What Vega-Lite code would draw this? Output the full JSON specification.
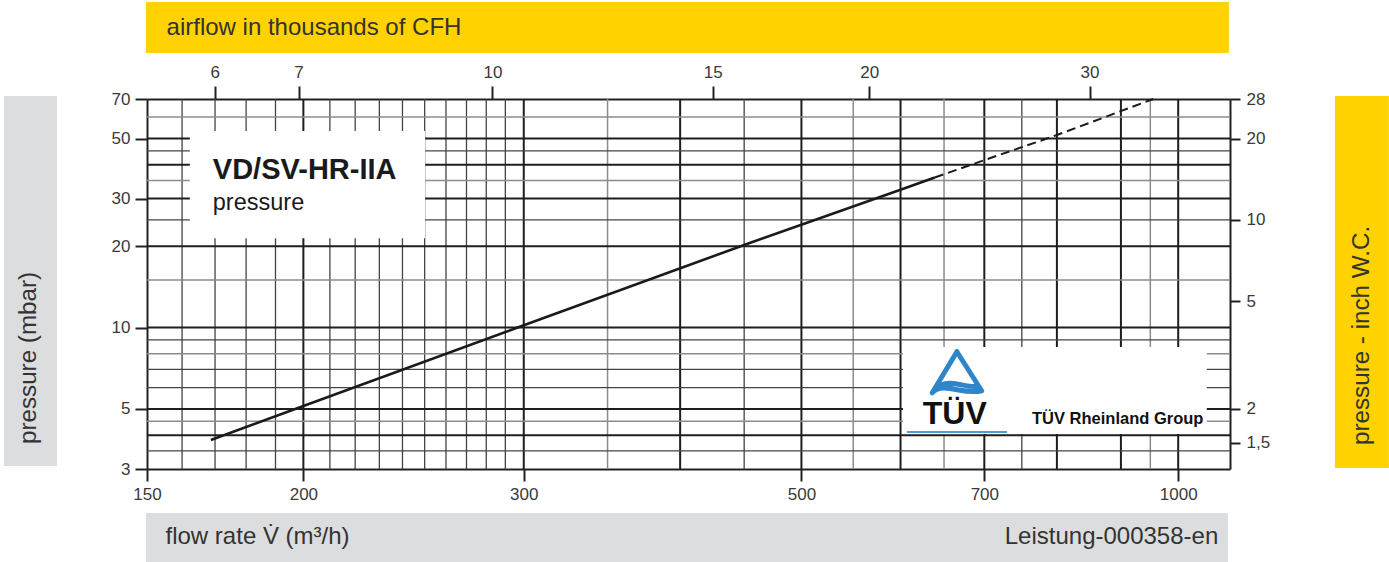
{
  "$schema": "https://vega.github.io/schema/vega-lite/v6.json",
  "width": 1083,
  "height": 370,
  "autosize": {"type": "none"},
  "padding": {"left": 147, "top": 99, "right": 159, "bottom": 93},
  "background": "white",
  "config": {
    "view": {"stroke": null},
    "axis": {
      "domainColor": "#222222",
      "domainWidth": 2,
      "tickColor": "#222222",
      "tickWidth": 2,
      "tickSize": 12,
      "labelFont": "Liberation Sans",
      "labelFontSize": 17,
      "labelColor": "#3a3a3a",
      "labelPadding": 5,
      "grid": false,
      "labelFlush": false,
      "labelOverlap": false
    },
    "text": {"font": "Liberation Sans", "color": "#333333"}
  },
  "resolve": {"scale": {"x": "independent", "y": "independent"}},
  "layer": [
    {
      "layer": [
        {
          "data": {"values": [{"band": "top"}]},
          "mark": {"type": "rect", "color": "#FFD200"},
          "encoding": {
            "x": {"datum": 149.7}, "x2": {"datum": 1097.7},
            "y": {"datum": 159.8}, "y2": {"datum": 103.6}
          }
        },
        {
          "data": {"values": [{"band": "bottom"}]},
          "mark": {"type": "rect", "color": "#DCDDDF"},
          "encoding": {
            "x": {"datum": 149.7}, "x2": {"datum": 1095.7},
            "y": {"datum": 2.063}, "y2": {"datum": 1.359}
          }
        },
        {
          "data": {"values": [{"band": "left"}]},
          "mark": {"type": "rect", "color": "#DCDDDF"},
          "encoding": {
            "x": {"datum": 115.3}, "x2": {"datum": 127.1},
            "y": {"datum": 71.8}, "y2": {"datum": 3.077}
          }
        },
        {
          "data": {"values": [{"band": "right"}]},
          "mark": {"type": "rect", "color": "#FFD200"},
          "encoding": {
            "x": {"datum": 1334.3}, "x2": {"datum": 1473.5},
            "y": {"datum": 71.8}, "y2": {"datum": 3.026}
          }
        },
        {
          "data": {"values": [{"label": "airflow in thousands of CFH"}]},
          "mark": {"type": "text", "align": "left", "baseline": "alphabetic", "fontSize": 24},
          "encoding": {"x": {"datum": 155.5}, "y": {"datum": 120.7}, "text": {"field": "label"}}
        },
        {
          "data": {"values": [{"label": "flow rate V̇ (m³/h)"}]},
          "mark": {"type": "text", "align": "left", "baseline": "alphabetic", "fontSize": 24},
          "encoding": {"x": {"datum": 155.2}, "y": {"datum": 1.58}, "text": {"field": "label"}}
        },
        {
          "data": {"values": [{"label": "Leistung-000358-en"}]},
          "mark": {"type": "text", "align": "right", "baseline": "alphabetic", "fontSize": 24},
          "encoding": {"x": {"datum": 1076.5}, "y": {"datum": 1.58}, "text": {"field": "label"}}
        },
        {
          "data": {"values": [{"label": "pressure (mbar)"}]},
          "mark": {"type": "text", "align": "left", "baseline": "alphabetic", "angle": 270, "fontSize": 24.2},
          "encoding": {"x": {"datum": 122.2}, "y": {"datum": 3.712}, "text": {"field": "label"}}
        },
        {
          "data": {"values": [{"label": "pressure  - inch W.C."}]},
          "mark": {"type": "text", "align": "left", "baseline": "alphabetic", "angle": 270, "fontSize": 24.2},
          "encoding": {"x": {"datum": 1420.3}, "y": {"datum": 3.681}, "text": {"field": "label"}}
        },
        {
          "data": {"values": [{"flow": 350}, {"flow": 550}, {"flow": 650}, {"flow": 950}]},
          "mark": {"type": "rule", "color": "#8c8c8c", "strokeWidth": 1.5},
          "encoding": {"x": {"field": "flow", "type": "quantitative"}}
        },
        {
          "data": {"values": [
            {"flow": 160}, {"flow": 170}, {"flow": 180}, {"flow": 190},
            {"flow": 210}, {"flow": 220}, {"flow": 230}, {"flow": 240}, {"flow": 250},
            {"flow": 260}, {"flow": 270}, {"flow": 280}, {"flow": 290},
            {"flow": 450}, {"flow": 750}
          ]},
          "mark": {"type": "rule", "color": "#444444", "strokeWidth": 1.3},
          "encoding": {"x": {"field": "flow", "type": "quantitative"}}
        },
        {
          "data": {"values": [
            {"flow": 200}, {"flow": 300}, {"flow": 400}, {"flow": 500}, {"flow": 600},
            {"flow": 700}, {"flow": 800}, {"flow": 900}, {"flow": 1000}
          ]},
          "mark": {"type": "rule", "color": "#1e1e1e", "strokeWidth": 2},
          "encoding": {
            "x": {
              "field": "flow", "type": "quantitative",
              "scale": {"type": "log", "domain": [150, 1100], "nice": false},
              "axis": {"orient": "bottom", "values": [150, 200, 300, 500, 700, 1000], "format": "d", "title": null}
            }
          }
        },
        {
          "data": {"values": [{"p": 4.5}, {"p": 8}, {"p": 15}, {"p": 35}, {"p": 60}]},
          "mark": {"type": "rule", "color": "#8c8c8c", "strokeWidth": 1.5},
          "encoding": {"y": {"field": "p", "type": "quantitative"}}
        },
        {
          "data": {"values": [{"p": 3.5}, {"p": 6}, {"p": 7}, {"p": 9}, {"p": 25}, {"p": 45}]},
          "mark": {"type": "rule", "color": "#444444", "strokeWidth": 1.3},
          "encoding": {"y": {"field": "p", "type": "quantitative"}}
        },
        {
          "data": {"values": [{"p": 4}, {"p": 5}, {"p": 10}, {"p": 20}, {"p": 30}, {"p": 40}, {"p": 50}]},
          "mark": {"type": "rule", "color": "#1e1e1e", "strokeWidth": 2},
          "encoding": {
            "y": {
              "field": "p", "type": "quantitative",
              "scale": {"type": "log", "domain": [3, 70], "nice": false},
              "axis": {"orient": "left", "values": [3, 5, 10, 20, 30, 50, 70], "format": "d", "title": null}
            }
          }
        },
        {
          "data": {"values": [{"box": "title"}]},
          "mark": {"type": "rect", "color": "white"},
          "encoding": {
            "x": {"datum": 162.3}, "x2": {"datum": 250.2},
            "y": {"datum": 53.3}, "y2": {"datum": 21.4}
          }
        },
        {
          "data": {"values": [{"box": "logo"}]},
          "mark": {"type": "rect", "color": "white"},
          "encoding": {
            "x": {"datum": 602.7}, "x2": {"datum": 1054},
            "y": {"datum": 8.47}, "y2": {"datum": 4.04}
          }
        },
        {
          "data": {"values": [
            {"flow": 168.7, "pressure": 3.84},
            {"flow": 200, "pressure": 5.13},
            {"flow": 300, "pressure": 10.2},
            {"flow": 450, "pressure": 20.2},
            {"flow": 600, "pressure": 32.3},
            {"flow": 639, "pressure": 35.9}
          ]},
          "mark": {"type": "line", "color": "#1a1a1a", "strokeWidth": 2.6},
          "encoding": {
            "x": {"field": "flow", "type": "quantitative"},
            "y": {"field": "pressure", "type": "quantitative"}
          }
        },
        {
          "data": {"values": [
            {"flow": 639, "pressure": 35.9},
            {"flow": 700, "pressure": 41.6},
            {"flow": 800, "pressure": 51.5},
            {"flow": 955, "pressure": 70}
          ]},
          "mark": {"type": "line", "color": "#1a1a1a", "strokeWidth": 2, "strokeDash": [9, 5]},
          "encoding": {
            "x": {"field": "flow", "type": "quantitative"},
            "y": {"field": "pressure", "type": "quantitative"}
          }
        },
        {
          "data": {"values": [{"label": "VD/SV-HR-IIA"}]},
          "mark": {"type": "text", "align": "left", "baseline": "alphabetic", "fontSize": 29, "fontWeight": "bold", "color": "#1a1a1a"},
          "encoding": {"x": {"datum": 169.3}, "y": {"datum": 35.43}, "text": {"field": "label"}}
        },
        {
          "data": {"values": [{"label": "pressure"}]},
          "mark": {"type": "text", "align": "left", "baseline": "alphabetic", "fontSize": 23.5, "color": "#1a1a1a"},
          "encoding": {"x": {"datum": 169.3}, "y": {"datum": 27.2}, "text": {"field": "label"}}
        },
        {
          "data": {"values": [{"logo": "triangle"}]},
          "mark": {
            "type": "point",
            "shape": "M0,-0.78 L0.95,0.72 M0,-0.78 L-0.95,0.8 M-0.95,0.8 C-0.5,0.35 0.2,0.9 0.95,0.72 M-0.6,0.5 C-0.2,0.3 0.35,0.62 0.8,0.55",
            "filled": false,
            "stroke": "#2E86C8",
            "strokeWidth": 5,
            "strokeJoin": "round",
            "strokeCap": "round",
            "opacity": 1,
            "size": 2704
          },
          "encoding": {"x": {"datum": 665.6}, "y": {"datum": 6.85}}
        },
        {
          "data": {"values": [{"label": "TÜV"}]},
          "mark": {"type": "text", "align": "center", "baseline": "alphabetic", "fontSize": 32, "fontWeight": "bold", "color": "#111111"},
          "encoding": {"x": {"datum": 663}, "y": {"datum": 4.39}, "text": {"field": "label"}}
        },
        {
          "data": {"values": [{"logo": "underline"}]},
          "mark": {"type": "rule", "color": "#4A9FD8", "strokeWidth": 2},
          "encoding": {"x": {"datum": 607}, "x2": {"datum": 729.8}, "y": {"datum": 4.11}}
        },
        {
          "data": {"values": [{"label": "TÜV Rheinland Group"}]},
          "mark": {"type": "text", "align": "left", "baseline": "alphabetic", "fontSize": 16.5, "fontWeight": "bold", "color": "#111111"},
          "encoding": {"x": {"datum": 764.2}, "y": {"datum": 4.4}, "text": {"field": "label"}}
        }
      ]
    },
    {
      "data": {"values": [{"cfh": 6}, {"cfh": 7}, {"cfh": 10}, {"cfh": 15}, {"cfh": 20}, {"cfh": 30}]},
      "mark": {"type": "rule", "opacity": 0},
      "encoding": {
        "x": {
          "field": "cfh", "type": "quantitative",
          "scale": {"type": "log", "domain": [5.2972, 38.846], "nice": false},
          "axis": {"orient": "top", "values": [6, 7, 10, 15, 20, 30], "format": "d", "title": null, "tickSize": 13}
        }
      }
    },
    {
      "data": {"values": [{"inwc": 1.5}, {"inwc": 2}, {"inwc": 5}, {"inwc": 10}, {"inwc": 20}, {"inwc": 28}]},
      "mark": {"type": "rule", "opacity": 0},
      "encoding": {
        "y": {
          "field": "inwc", "type": "quantitative",
          "scale": {"type": "log", "domain": [1.2, 28], "nice": false},
          "axis": {"orient": "right", "values": [1.5, 2, 5, 10, 20, 28], "labelExpr": "replace(datum.label, '.', ',')", "title": null, "tickSize": 10, "labelPadding": 6}
        }
      }
    }
  ]
}
